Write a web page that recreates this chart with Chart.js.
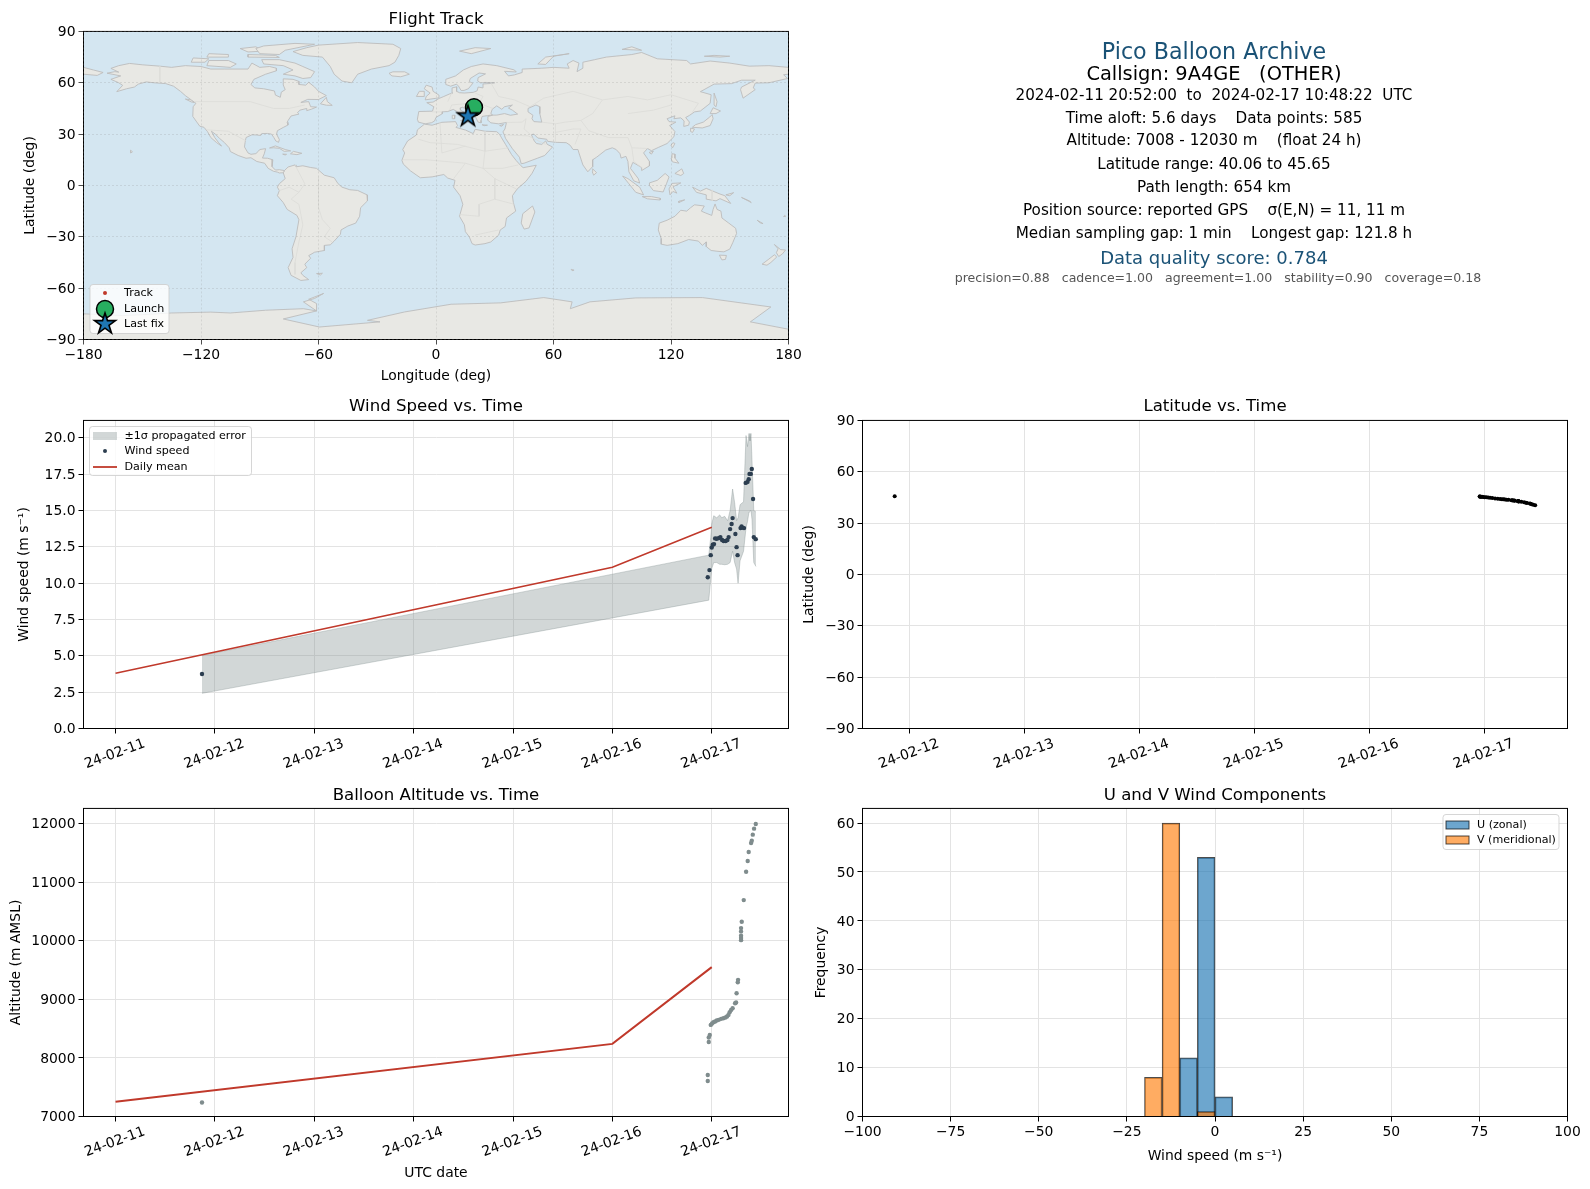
<!DOCTYPE html>
<html>
<head>
<meta charset="utf-8">
<title>Pico Balloon Archive</title>
<script src="https://cdn.jsdelivr.net/npm/chart.js@4/dist/chart.umd.min.js"></script>
<style>
  html, body { margin: 0; background: #fff; }
  #page { position: relative; width: 1590px; height: 1189px; overflow: hidden; font-family: 'DejaVu Sans', sans-serif; }
  canvas { position: absolute; }
  .info { position: absolute; left: 800px; width: 828px; text-align: center; white-space: pre; transform: translateY(-50%); }
</style>
</head>
<body>
<div id="page">
  <canvas id="mapChart"></canvas>
  <canvas id="windChart"></canvas>
  <canvas id="latChart"></canvas>
  <canvas id="altChart"></canvas>
  <canvas id="histChart"></canvas>
</div>
<script>
// days counted from 2024-02-11 00:00 UTC
const dateLabels = ['24-02-11', '24-02-12', '24-02-13', '24-02-14', '24-02-15', '24-02-16', '24-02-17'];

const windDays = [0.87, 5.96, 5.977, 5.99, 6.0, 6.01, 6.023, 6.034, 6.05, 6.07, 6.087, 6.104, 6.12, 6.14, 6.158, 6.17, 6.185, 6.2, 6.21, 6.238, 6.25, 6.26, 6.29, 6.30, 6.31, 6.325, 6.342, 6.36, 6.372, 6.38, 6.393, 6.403, 6.416, 6.423, 6.443];
const windSpeed = [3.75, 10.41, 10.9, 11.93, 12.46, 12.64, 12.69, 13.08, 13.06, 13.1, 13.17, 12.97, 12.9, 12.9, 12.97, 13.17, 13.72, 14.07, 14.48, 13.38, 12.48, 11.93, 13.79, 13.9, 13.82, 13.79, 16.9, 16.97, 17.15, 17.52, 17.52, 17.86, 15.79, 13.17, 13.03];

const bandDays = [0.87, 5.97, 5.99, 6.0, 6.02, 6.05, 6.08, 6.10, 6.13, 6.16, 6.185, 6.21, 6.23, 6.25, 6.265, 6.285, 6.32, 6.345, 6.36, 6.375, 6.385, 6.395, 6.405, 6.423, 6.445];
const bandUpper = [5.03, 11.93, 13.15, 14.07, 14.64, 14.5, 14.7, 14.5, 14.6, 14.3, 15.0, 16.48, 15.55, 14.3, 14.5, 15.4, 15.6, 20.16, 19.4, 20.3, 19.8, 20.3, 18.5, 15.0, 14.9];
const bandLower = [2.42, 8.83, 10.28, 11.0, 11.42, 11.42, 11.3, 11.3, 11.27, 11.3, 11.42, 12.2, 11.42, 10.97, 10.0, 11.54, 12.2, 13.8, 14.25, 14.9, 15.0, 15.0, 14.4, 11.42, 11.15];

const meanDays = [0, 5, 6];
const meanWind = [3.8, 11.1, 13.85];
const meanAlt = [7250, 8240, 9550];

const trackDays = [0.87, 5.96, 5.96, 5.97, 5.97, 5.98, 5.99, 6.003, 6.017, 6.034, 6.05, 6.07, 6.094, 6.117, 6.138, 6.154, 6.168, 6.18, 6.195, 6.21, 6.235, 6.245, 6.25, 6.262, 6.265, 6.295, 6.295, 6.295, 6.295, 6.295, 6.302, 6.322, 6.346, 6.362, 6.372, 6.396, 6.403, 6.413, 6.426, 6.443];
const altitude = [7240, 7607, 7709, 8273, 8348, 8393, 8564, 8587, 8610, 8621, 8638, 8650, 8667, 8678, 8690, 8707, 8735, 8781, 8820, 8849, 8934, 8946, 9105, 9293, 9333, 10011, 10046, 10085, 10160, 10217, 10325, 10695, 11179, 11362, 11516, 11670, 11709, 11812, 11915, 11994];
const latitude = [45.65, 45.6, 45.55, 45.45, 45.4, 45.35, 45.25, 45.15, 45.05, 44.9, 44.8, 44.65, 44.45, 44.3, 44.15, 44.0, 43.9, 43.8, 43.7, 43.6, 43.4, 43.3, 43.25, 43.15, 43.1, 42.85, 42.83, 42.8, 42.78, 42.75, 42.7, 42.45, 42.15, 41.95, 41.8, 41.4, 41.25, 41.0, 40.7, 40.4];
const altTicks = [7000, 8000, 9000, 10000, 11000, 12000];

const histBins = [-17.5, -12.5, -7.5, -2.5, 2.5];
const uCounts = [null, null, 12, 53, 4];
const vCounts = [8, 60, null, 1, null];

const trackLon = [19.4, 19.0, 18.4, 17.8, 17.1, 16.3];
const trackLat = [45.65, 44.8, 43.7, 42.6, 41.4, 40.4];
const launchPoint = [{ x: 19.4, y: 45.65 }];
const lastPoint = [{ x: 16.3, y: 40.4 }];

// coastlines, [lon, lat]
const northAmerica = [[-168,65.6],[-164,66.5],[-162,66.2],[-166,68.4],[-162,70],[-156.5,71.3],[-150,70.5],[-141,69.7],[-135,69],[-128,70],[-120,69.5],[-115,68],[-108,68],[-100,68],[-96,68],[-94,71.5],[-90,69],[-85,69.5],[-81.5,68.5],[-81.5,67],[-87,65],[-93,62],[-94.5,59],[-92.5,57],[-88,56.5],[-82.5,55.2],[-82,52.8],[-79.5,51.5],[-79,54.5],[-77,56],[-78,58.7],[-78,62.3],[-73,62],[-70,60.8],[-70,59],[-66.5,58.6],[-65,60.3],[-62,57.5],[-60,55],[-56,52.5],[-60,50.2],[-65.5,50.3],[-69,48.5],[-65,49],[-64.5,47.5],[-64,46],[-61,45.8],[-63.5,44.6],[-66,43.7],[-66,45],[-69.5,44],[-70.7,42.5],[-70,41.7],[-74,40.6],[-75.5,38],[-76,36.9],[-75.6,35.3],[-78,33.9],[-81,32],[-81.4,30],[-80,26.8],[-80.4,25.2],[-81.8,26],[-82.8,28],[-84,30],[-86,30.4],[-89,30.3],[-89.5,29.2],[-91.5,29.5],[-94,29.6],[-97,28],[-97.5,25],[-97.8,22.5],[-96,19],[-94.5,18.2],[-92,18.6],[-90.7,20],[-90,21],[-87,21.5],[-87.7,18.5],[-88.6,16],[-86,15.9],[-83.3,15],[-83.7,11],[-82,9],[-80,9.2],[-77.4,8.7],[-78,7.4],[-80,7.3],[-81,7.8],[-83,8.3],[-85.7,10],[-87.5,13],[-91.5,14],[-94.5,16.2],[-97,15.9],[-101,17.5],[-105,19.8],[-105.6,22],[-108,25],[-110.5,27.5],[-112.7,30],[-114.7,31.7],[-113,28],[-111,25],[-109.5,23],[-112,25],[-115,28],[-116.7,31.5],[-118.5,34],[-120.6,34.6],[-122.5,37.6],[-124.2,40.4],[-124,46],[-122.6,48],[-125,50],[-128,52.5],[-130.5,55],[-134,58],[-138,59.5],[-144,60],[-148,60.5],[-152,59.2],[-154,57.5],[-158,56.5],[-163,54.8],[-160,58.5],[-162,60],[-166,62],[-161,64]];
const southAmerica = [[-77.4,8.7],[-75.5,10.8],[-72,12],[-71.5,10.9],[-68,11.5],[-64,10.5],[-61,10],[-57,6],[-52,4.5],[-50,1],[-48,-1],[-44,-2.5],[-40,-2.9],[-35.2,-5.5],[-35,-9],[-38.5,-13],[-39,-18],[-41,-22],[-45,-23.7],[-48.5,-26],[-48.8,-28.5],[-52,-32.5],[-54,-34.7],[-57,-35],[-57,-38],[-62,-39],[-65,-41],[-64,-42.5],[-67,-46],[-66,-48],[-69,-51],[-68,-52.5],[-65,-55],[-69,-55.5],[-74,-52.5],[-75.5,-48],[-73,-42],[-73.5,-37],[-71.5,-30],[-70,-20],[-71,-17.5],[-76,-14],[-78,-10],[-81,-6],[-80,-3],[-81,-1],[-80,1],[-77,4],[-78,7.4]];
const africa = [[-5.9,35.8],[-2,35.2],[3,36.9],[10,37.3],[11,35],[10.2,33.9],[15,32.4],[19,30.3],[20,32.8],[25,31.7],[31,31.4],[32.4,30],[33.5,27.8],[35.5,24],[37.3,20.5],[38.6,18],[41,14.5],[43.3,11.6],[44.5,10.4],[51.2,11.8],[49,7],[46,2.5],[41.5,-2],[39,-6],[39.5,-10],[40.7,-15],[36,-19],[35.3,-24],[32.8,-26],[32,-29],[28,-33],[25,-34],[20,-34.8],[18.4,-34],[17,-30],[15,-27],[14.5,-23],[12,-18],[13.7,-11],[12.3,-6],[9,-1],[9.7,3],[6,4.3],[4,6.4],[-2,5],[-8,4.5],[-13,8.5],[-16.7,12.5],[-17.4,14.7],[-16,19],[-17,21],[-14.5,26],[-10,29.5],[-9.5,32.5]];
const eurasia = [[-9,37],[-9.5,38.7],[-8.8,43.2],[-1.8,43.4],[-1.1,46],[-4.7,48.4],[-1.5,48.7],[1.5,50.8],[4,52],[7,53.5],[8.5,54],[8.2,57],[10.6,57.6],[10.5,55],[12,54.2],[14.5,54],[19,54.4],[21,55.3],[21.5,57.5],[24,57],[24,59.3],[28,59.6],[30,60],[25,60.2],[22.8,59.9],[21.3,61],[21.5,63],[25.3,65.2],[22,65.7],[17.5,62.5],[17,60.7],[18.8,59.7],[16.5,56.5],[14.3,55.5],[12.8,55.5],[11.5,58],[10.5,59.2],[7.5,58],[5,59],[5,62],[10,64],[14,67.5],[18,69.5],[24,71],[31,70],[40,67.5],[41,66.3],[35,66.7],[37,64],[40,64.6],[44,66],[44,68],[54,68.5],[60,69],[68,68.5],[67,71],[70,73],[73,71.5],[72,66.5],[75,68.5],[75,72],[81,73.5],[87,75],[100,76.5],[105,77.7],[113,74],[128,73],[130,71],[140,72.7],[150,71.5],[160,69.7],[170,70],[180,69],[180,65],[177.5,64.7],[179.5,62.5],[170,60],[163,59.8],[162,57],[163,56],[156.8,51],[155.5,56],[156,57.5],[163,61.5],[156,61.5],[151,59.5],[142,59.2],[135,54.8],[140.5,53],[140,48],[135,43.5],[132,43],[129.5,41],[127.5,39.7],[129.4,37],[129,35.2],[126.5,34.5],[126.7,37.7],[125,39.5],[121.5,39],[122,40.7],[118,39],[119,37.3],[122.5,37],[119.3,35],[122,31.5],[121.5,28.5],[118,24.5],[113.5,22.2],[110,20.3],[108,21.6],[106,19],[109,14],[109,11.5],[105,8.7],[105,10.5],[100.5,13.5],[99.3,10],[103.3,4],[104,1.4],[101,2.7],[98.5,8],[98,14],[97,17],[94.5,16],[94,18.5],[92,21],[90,22],[86.7,20.7],[82,16.5],[80,15],[80,11],[77.5,8],[75,12],[73,19],[72.5,21],[70,21],[68.5,23.5],[66.5,25],[61,25.2],[57,25.8],[56.5,27],[52,27.7],[50,30],[48.7,29.7],[50.2,26],[51.3,24.5],[54,24],[56,26],[56.8,24],[59.5,22.5],[55.5,17.5],[52,16],[45,13],[43.5,12.7],[42.6,16.5],[39,21.5],[35.5,27.5],[34.9,29.5],[34.2,31.3],[35.2,33],[36,36.8],[32,36],[28,36.6],[26.3,38.3],[26.5,40.3],[29,41.1],[31,41.1],[35,42],[38,41],[41.7,41.7],[39,44],[37,45.2],[39,47],[35,46],[33.6,44.5],[31,46.5],[28.7,44.5],[28,42],[28.9,41.2],[26.2,40.8],[23.5,40.3],[23,38],[23,36.6],[21.5,37],[19.5,41.5],[19,42],[15,44.5],[13.7,45.7],[12.3,45.3],[12.5,44],[16,41.8],[18.4,40.2],[16.8,40.3],[16,38],[15.8,40],[13,41.2],[10.3,43.5],[8.8,44.4],[6,43.2],[3.2,43],[3.2,41.9],[0,39.8],[-0.7,37.7],[-2.2,36.7],[-5.5,36]];
const chukotkaEnd = [[-180,69],[-175,67.5],[-170,66],[-173,64.3],[-180,65]];
const australia = [[114,-22],[113.5,-26],[115,-31],[115,-34.3],[118,-35],[123.5,-34],[129,-31.6],[134,-32.5],[136,-35],[138,-33],[138,-35.7],[140.5,-38],[144,-38.5],[147,-38.8],[150,-37.2],[151.5,-33.5],[153.5,-28],[153,-25],[149.5,-22],[146,-19],[145.5,-15],[143.5,-14],[142.5,-10.8],[141.5,-14],[140.8,-17.5],[137.5,-16],[135.5,-15],[137,-12],[132,-11.3],[130,-13],[128,-15],[125,-14.5],[122,-18],[118,-20.3]];
const antarctica = [[-180,-75],[-160,-76],[-150,-75.5],[-135,-74.5],[-115,-74],[-105,-74.5],[-87,-72.9],[-67.7,-72],[-61,-73.3],[-61,-69],[-65,-66.5],[-57.4,-63.1],[-62,-66],[-67.7,-68],[-61,-73.3],[-78,-78],[-59.5,-82.7],[-42,-81],[-28.6,-79.7],[-35,-78.8],[-16,-73.9],[7.7,-69.4],[33,-68.6],[55,-65.5],[69.5,-68],[68.6,-72],[78.6,-68],[102,-65.7],[136,-65.5],[171,-71],[160.5,-79.7],[180,-84],[180,-90],[-180,-90]];
const islands = [
  [[-80,73.5],[-72,71.5],[-68,69.5],[-62,66.5],[-64,63],[-68,62.5],[-72,64],[-78,65],[-73,67.5],[-78,70],[-88,71],[-89,73.5]],
  [[-117,70],[-105,69],[-102,71],[-106,73],[-116,73]],
  [[-125,72],[-118,72],[-116,74],[-124,74.5]],
  [[-90,77],[-80,76.5],[-77,79],[-62,82.5],[-72,83],[-88,81.5],[-92,80]],
  [[-96,75],[-80,74.8],[-82,76],[-96,76.5]],
  [[-96,78],[-88,78.5],[-92,81],[-100,80]],
  [[-117,75],[-106,75],[-106,76.5],[-116,77]],
  [[-73,78.2],[-66,80.5],[-60,82],[-40,83.5],[-22,82.5],[-18,80],[-19,76],[-21,72],[-24,70],[-33,68],[-40,65],[-43,60],[-48,61],[-52,65],[-54,69.5],[-58,75],[-68,76]],
  [[-24,65.5],[-22,66.4],[-16,66.4],[-13.6,65],[-18,63.5],[-22.5,64]],
  [[-59,47.7],[-56,51.5],[-55.5,49],[-53,46.8],[-56,46.9]],
  [[-85,21.9],[-82,23.1],[-77,21],[-74.2,20.2],[-77.5,19.9],[-80,21.7],[-83,22]],
  [[-74.3,18.5],[-72.8,19.9],[-68.5,18.8],[-71,18]],
  [[-78.3,18.3],[-76.3,18.2],[-77,17.8]],
  [[-156,20.6],[-155,19.7],[-155.8,19]],
  [[-128,50.5],[-125,50],[-123.5,48.5],[-125,48.8]],
  [[-61,-51.5],[-58,-51.3],[-59,-52.3]],
  [[49.3,-12],[50.5,-15.5],[47.5,-24.8],[45,-25.5],[43.5,-22],[44.3,-16.5]],
  [[-5.5,50],[1.5,51.2],[1.5,52.8],[-1.5,55],[-2,57.5],[-5,58.6],[-6,56.5],[-3,54],[-5,52]],
  [[-10,52],[-6,52],[-6,55],[-8.5,55]],
  [[12.5,38],[15.5,38.2],[15,36.7]],
  [[8.3,41],[9.7,41],[9.5,39],[8.5,39]],
  [[23.5,35.5],[26.3,35.2],[24.5,34.9]],
  [[32.5,35],[34.5,35.6],[33.5,34.6]],
  [[12,78.5],[20,80.5],[28,80],[18,77]],
  [[52,71],[56,75],[68,77],[60,75.5],[56,70.7]],
  [[95,79.5],[105,79],[100,81]],
  [[137,75.5],[145,75],[150,75.5],[142,76]],
  [[142,54],[143.5,49],[143,46],[142,47],[142,50]],
  [[130.9,34],[136,33.6],[140,35],[141.5,39],[141,41.4],[139.8,40],[136.5,37],[132.5,35.5]],
  [[140,42],[141.5,45.4],[145.3,43.5],[143,42]],
  [[130,33.5],[132,33],[131,31],[130,31.5]],
  [[121,25],[122,24.5],[120.8,22],[120,23.5]],
  [[108.8,19.3],[111,20],[110,18.3]],
  [[80,9.7],[82,7.5],[80.5,6],[79.8,8]],
  [[120.5,18.5],[122,18.3],[122,16],[124,13],[120.7,13.8],[120,16]],
  [[122,7],[125.5,9.7],[126.5,7],[125,5.8]],
  [[109,1.5],[113,3],[117,7],[119,5],[117.7,1],[116,-3.8],[111,-3],[109,0]],
  [[95.3,5.5],[98,4],[104,-1],[106,-5.5],[102,-4],[98.5,1]],
  [[105.3,-6.5],[110,-6.5],[114.5,-7.5],[114.5,-8.5],[108,-7.8]],
  [[119.5,-5.5],[119,-2],[120.5,1.2],[125,1.5],[121,-0.8],[123,-4.5],[121,-3.5]],
  [[131,-1],[135,-3.3],[138,-1.7],[145,-5],[147.5,-6],[150.5,-10.5],[145,-7.7],[143,-9],[138,-8],[138,-5.5],[133,-4]],
  [[148,-5.5],[152,-4.2],[150,-6]],
  [[124,-10],[127,-8.4],[124,-9.2]],
  [[156,-7],[160,-9],[161,-10]],
  [[178,-17.5],[178.6,-18],[177.5,-18.2]],
  [[164,-20.3],[167,-22.3],[165.5,-21.8]],
  [[144.7,-40.7],[148.3,-40.9],[147.8,-43.2],[146,-43.5]],
  [[172.8,-34.5],[176,-37.5],[178.5,-37.7],[176.9,-40],[175,-41.5],[173.8,-39.3],[174.7,-37]],
  [[172.8,-40.5],[174,-41.8],[171,-45],[169,-46.6],[166.5,-46],[170,-43]],
  [[69,-49],[70.5,-49.5],[69.5,-49.8]]
];
const caspianSea = [[47,45],[51,47],[53,46],[53,42],[54,37],[50,37.3],[49,39],[49.5,41],[47,43]];
const borders = [
  [[-141,69.7],[-141,60]], [[-123,49],[-95,49],[-83,45],[-75,45],[-67,47]], [[-117,32.5],[-106,31.7],[-97,26]],
  [[-72,12],[-67,1],[-70,-4],[-74,-8],[-70,-11],[-69,-17],[-68,-23],[-70,-33],[-72,-45],[-72,-52]],
  [[-60,5],[-60,-13],[-58,-20],[-54,-25],[-57,-30],[-53,-33]], [[-80,-3],[-75,-1],[-70,-4]],
  [[-9,27],[-3,25],[11,24],[25,20],[37,22]], [[25,31.7],[25,20],[24,10],[30,4],[30,-8],[22,-11],[22,-18],[12,-17]],
  [[-17,15],[-5,15],[15,13],[24,10],[34,10],[42,12]], [[9,4],[15,13]], [[30,4],[41,-2]], [[30,-8],[40,-11]],
  [[20,-29],[32,-26]], [[2,37],[3,19],[15,23]],
  [[20,54],[24,52],[22,48],[29,45]], [[28,60],[32,52],[40,50],[48,46]], [[6,49],[8,54]], [[-2,43],[3,43]], [[7,44],[8,47],[17,48],[22,48]],
  [[48,46],[55,51],[70,55],[85,50],[98,52],[108,50],[120,53],[134,48],[131,43]],
  [[85,50],[80,42],[74,38],[78,32],[88,28],[98,28],[100,22],[108,21.6]], [[98,42],[111,44],[120,47]],
  [[36,36.8],[44,37],[46,39],[45,33],[48,30]], [[35,29.5],[47,29],[56,24]], [[61,25.2],[61,31],[61,36],[54,37]], [[74,38],[66,37],[61,36]], [[61,31],[70,33],[74,33],[71,24]],
  [[100,22],[101,14],[105,10.5]], [[141,-2.6],[141,-9]]
];

function toPoints(days, values) {
  return days.map((d, i) => ({ x: d, y: values[i] }));
}
function lonLat(list) {
  return list.map(p => ({ x: p[0], y: p[1] }));
}
function minusSign(v) {
  return String(v).replace('-', '\u2212');
}

const fontFamily = "'DejaVu Sans', sans-serif";
Chart.defaults.font.family = fontFamily;
Chart.defaults.color = '#000';
Chart.defaults.animation = false;

const gridColor = '#e3e3e3';
const redLine = '#c0392b';
const dotDark = '#2c3e50';
const dotGrey = '#7f8c8d';
const bandColor = 'rgba(127,140,141,0.35)';
const ocean = '#d4e6f1';
const landColor = '#e8e8e4';

// ocean, land fill, black frame
const mapFill = {
  id: 'mapFill',
  beforeDraw(chart) {
    const a = chart.chartArea;
    chart.ctx.fillStyle = ocean;
    chart.ctx.fillRect(a.left, a.top, a.right - a.left, a.bottom - a.top);
  },
  beforeDatasetDraw(chart, args) {
    const ds = chart.data.datasets[args.index];
    if (!ds.areaFill) return;
    const ctx = chart.ctx, a = chart.chartArea, pts = args.meta.data;
    ctx.save();
    ctx.beginPath();
    ctx.rect(a.left, a.top, a.right - a.left, a.bottom - a.top);
    ctx.clip();
    ctx.beginPath();
    pts.forEach((p, i) => i ? ctx.lineTo(p.x, p.y) : ctx.moveTo(p.x, p.y));
    ctx.closePath();
    ctx.fillStyle = ds.areaFill;
    ctx.fill();
    ctx.restore();
  }
};
const frame = {
  id: 'frame',
  afterDatasetsDraw(chart) {
    const a = chart.chartArea, ctx = chart.ctx;
    ctx.save();
    ctx.strokeStyle = '#000';
    ctx.lineWidth = 1;
    ctx.strokeRect(a.left, a.top, a.right - a.left, a.bottom - a.top);
    ctx.restore();
  }
};
// matplotlib style legend box inside the axes
const boxLegend = {
  id: 'boxLegend',
  afterDraw(chart, args, opts) {
    if (!opts.items) return;
    const ctx = chart.ctx, top = chart.canvas.offsetTop, left = chart.canvas.offsetLeft;
    ctx.save();
    ctx.translate(-left, -top);
    ctx.beginPath();
    ctx.roundRect(opts.x, opts.y, opts.w, opts.h, 3);
    ctx.fillStyle = 'rgba(255,255,255,0.8)';
    ctx.fill();
    ctx.strokeStyle = 'rgba(204,204,204,0.8)';
    ctx.lineWidth = 1;
    ctx.stroke();
    ctx.font = '11.1px ' + fontFamily;
    ctx.textBaseline = 'middle';
    opts.items.forEach(item => {
      const sx = opts.x + opts.swatchX, cx = sx + 12, w = opts.swatchW;
      if (item.kind === 'rect') {
        ctx.fillStyle = item.fill;
        ctx.fillRect(sx, item.y - 4, w, 8);
        if (item.stroke) { ctx.strokeStyle = item.stroke; ctx.strokeRect(sx, item.y - 4, w, 8); }
      } else if (item.kind === 'line') {
        ctx.strokeStyle = item.color;
        ctx.lineWidth = 1.8;
        ctx.beginPath();
        ctx.moveTo(sx, item.y);
        ctx.lineTo(sx + w, item.y);
        ctx.stroke();
      } else {
        ctx.fillStyle = item.color || '#000';
        ctx.strokeStyle = '#000';
        ctx.lineWidth = item.edge || 0;
        Chart.helpers.drawPoint(ctx, {
          pointStyle: item.style || 'circle', radius: item.r, rotation: 0,
          borderWidth: item.edge || 0
        }, cx, item.y);
      }
      ctx.fillStyle = '#000';
      ctx.textAlign = 'left';
      ctx.fillText(item.label, opts.x + opts.textX, item.y);
    });
    ctx.restore();
  }
};
Chart.register(frame, boxLegend);

function starImage(r) {
  const c = document.createElement('canvas');
  c.width = c.height = 2 * r + 6;
  const ctx = c.getContext('2d'), m = r + 3;
  ctx.beginPath();
  for (let i = 0; i < 10; i++) {
    const rad = i % 2 ? r * 0.382 : r;
    const t = -Math.PI / 2 + i * Math.PI / 5;
    ctx.lineTo(m + rad * Math.cos(t), m + rad * Math.sin(t));
  }
  ctx.closePath();
  ctx.fillStyle = '#1f77b4';
  ctx.fill();
  ctx.strokeStyle = '#000';
  ctx.lineWidth = 1.6;
  ctx.lineJoin = 'miter';
  ctx.stroke();
  return c;
}
const starPoint = starImage(11);

// box = canvas rect, area = axes rect in page pixels
function buildChart(id, box, area, titleText, titleY, yTitleX, xTitleY, xTitle, yTitle, xOpts, yOpts, datasets, plugins, legend, type) {
  const canvas = document.getElementById(id);
  canvas.width = box.w;
  canvas.height = box.h;
  canvas.style.left = box.x + 'px';
  canvas.style.top = box.y + 'px';
  const padLeft = yTitleX - 8.3 - box.x;
  const padBottom = box.y + box.h - (xTitleY + 8.3);
  const padTop = titleY - 10 - box.y;
  return new Chart(canvas, {
    type: type || 'scatter',
    data: { datasets },
    plugins: plugins || [],
    options: {
      responsive: false,
      layout: { padding: { left: padLeft, right: box.x + box.w - area.r, top: padTop, bottom: padBottom } },
      plugins: {
        legend: { display: false },
        tooltip: { enabled: false },
        title: {
          display: true, text: titleText, fullSize: false, color: '#000',
          font: { size: 16.6, weight: 'normal' },
          padding: { top: 0, bottom: area.t - titleY - 10 }
        },
        boxLegend: legend || {}
      },
      scales: {
        x: Object.assign({
          type: 'linear',
          afterFit: s => { s.height = xTitleY + 8.3 - area.b; },
          border: { display: false },
          title: { display: !!xTitle, text: xTitle, font: { size: 13.9 }, padding: 0 }
        }, xOpts),
        y: Object.assign({
          afterFit: s => { s.width = area.l - box.x - padLeft; },
          border: { display: false },
          title: { display: true, text: yTitle, font: { size: 13.9 }, padding: 0 }
        }, yOpts)
      }
    }
  });
}

function axisGrid(extra) {
  return Object.assign({ color: gridColor, tickColor: '#000', tickLength: 5, lineWidth: 1 }, extra || {});
}
function dateAxis(min, max) {
  return {
    min, max,
    grid: axisGrid(),
    ticks: {
      stepSize: 1, includeBounds: false, autoSkip: false, minRotation: 20, maxRotation: 20,
      labelOffset: 29, padding: 2, font: { size: 13.9 }, color: '#000',
      callback: v => dateLabels[v]
    }
  };
}
function valueAxis(min, max, stepSize, callback) {
  return {
    type: 'linear', min, max,
    grid: axisGrid(),
    ticks: { stepSize, includeBounds: false, padding: 3, labelOffset: 1, font: { size: 13.9 }, color: '#000', callback: callback || minusSign }
  };
}

// Flight track map
const mapGrid = axisGrid({ color: 'rgba(140,140,140,0.3)', lineWidth: 0.7, z: 1 });
const mapBorder = { display: false, dash: [2, 2] };
const landSets = [northAmerica, southAmerica, africa, eurasia, chukotkaEnd, australia, antarctica].concat(islands).map(poly => ({
  data: lonLat(poly.concat([poly[0]])), showLine: true, pointRadius: 0, borderColor: '#bcbcbc', borderWidth: 0.9, areaFill: landColor, order: 20
}));
const borderSets = borders.map(line => ({
  data: lonLat(line), showLine: true, pointRadius: 0, borderColor: '#dcdcd8', borderWidth: 0.8, order: 10
}));
const lakeSet = { data: lonLat(caspianSea.concat([caspianSea[0]])), showLine: true, pointRadius: 0, borderColor: '#bcbcbc', borderWidth: 0.9, areaFill: ocean, order: 9 };
buildChart('mapChart', { x: 0, y: 0, w: 830, h: 395 }, { l: 83.5, r: 788.5, t: 31.5, b: 339.5 },
  'Flight Track', 19.5, 30.5, 376, 'Longitude (deg)', 'Latitude (deg)',
  { min: -180, max: 180, border: mapBorder, grid: mapGrid, ticks: { stepSize: 60, padding: 3, font: { size: 13.9 }, color: '#000', maxRotation: 0, callback: minusSign } },
  { type: 'linear', min: -90, max: 90, border: mapBorder, grid: mapGrid, ticks: { stepSize: 30, padding: 3, labelOffset: 1, font: { size: 13.9 }, color: '#000', callback: minusSign } },
  landSets.concat(borderSets, [lakeSet,
    { data: toPoints(trackLon, trackLat), pointRadius: 1.5, backgroundColor: redLine, borderWidth: 0, order: 3 },
    { data: launchPoint, pointRadius: 8.5, backgroundColor: '#27ae60', borderColor: '#000', borderWidth: 1.5, order: 2 },
    { data: lastPoint, pointStyle: starPoint, pointRadius: 11, order: 1 }
  ]),
  [mapFill],
  { x: 90, y: 284.5, w: 79, h: 49, swatchX: 3, swatchW: 24, textX: 34, items: [
    { kind: 'point', label: 'Track', y: 293, r: 2, color: redLine },
    { kind: 'point', label: 'Launch', y: 309, r: 8.5, color: '#27ae60', edge: 1.5 },
    { kind: 'point', label: 'Last fix', y: 324, r: 11, style: starPoint }
  ] });

// Wind speed vs time
buildChart('windChart', { x: 0, y: 395, w: 802, h: 385 }, { l: 83.5, r: 788.5, t: 420.5, b: 728.5 },
  'Wind Speed vs. Time', 406.5, 24.3, 775, '', 'Wind speed (m s\u207B\u00B9)',
  dateAxis(-0.3225, 6.7725),
  valueAxis(0, 21.2, 2.5, v => v.toFixed(1)),
  [
    { data: toPoints(bandDays, bandUpper), showLine: true, pointRadius: 0, borderColor: bandColor, borderWidth: 1, backgroundColor: bandColor, fill: '+1', order: 3 },
    { data: toPoints(bandDays, bandLower), showLine: true, pointRadius: 0, borderColor: bandColor, borderWidth: 1, order: 3 },
    { data: toPoints(windDays, windSpeed), pointRadius: 2.2, backgroundColor: dotDark, borderWidth: 0, order: 2 },
    { data: toPoints(meanDays, meanWind), showLine: true, pointRadius: 0, borderColor: redLine, borderWidth: 1.6, order: 1 }
  ], [],
  { x: 89.5, y: 426.5, w: 162, h: 49, swatchX: 3.5, swatchW: 24, textX: 35, items: [
    { kind: 'rect', label: '\u00B11\u03C3 propagated error', y: 436, fill: bandColor },
    { kind: 'point', label: 'Wind speed', y: 451, r: 2, color: dotDark },
    { kind: 'line', label: 'Daily mean', y: 467, color: redLine }
  ] });

// Latitude vs time
buildChart('latChart', { x: 800, y: 395, w: 790, h: 385 }, { l: 862.5, r: 1567.5, t: 420.5, b: 728.5 },
  'Latitude vs. Time', 406.5, 809, 775, '', 'Latitude (deg)',
  dateAxis(0.59, 6.724),
  valueAxis(-90, 90, 30),
  [{ data: toPoints(trackDays, latitude), pointRadius: 2, backgroundColor: '#000', borderWidth: 0 }]);

// Altitude vs time
buildChart('altChart', { x: 0, y: 780, w: 802, h: 409 }, { l: 83.5, r: 788.5, t: 808.5, b: 1116.5 },
  'Balloon Altitude vs. Time', 795.5, 16.2, 1173, 'UTC date', 'Altitude (m AMSL)',
  dateAxis(-0.3225, 6.7725),
  Object.assign(valueAxis(7000, 12260, 1000), {
    afterBuildTicks: s => { s.ticks = altTicks.map(v => ({ value: v })); }
  }),
  [
    { data: toPoints(trackDays, altitude), pointRadius: 2.2, backgroundColor: dotGrey, borderWidth: 0, order: 2 },
    { data: toPoints(meanDays, meanAlt), showLine: true, pointRadius: 0, borderColor: redLine, borderWidth: 2, order: 1 }
  ]);

// U and V histogram
buildChart('histChart', { x: 800, y: 780, w: 790, h: 409 }, { l: 862.5, r: 1567.5, t: 808.5, b: 1116.5 },
  'U and V Wind Components', 795.5, 821, 1156, 'Wind speed (m s\u207B\u00B9)', 'Frequency',
  { min: -100, max: 100, offset: false, grid: axisGrid({ offset: false }), ticks: { stepSize: 25, padding: 3, font: { size: 13.9 }, color: '#000', maxRotation: 0, callback: minusSign } },
  valueAxis(0, 63, 10),
  [
    { label: 'U (zonal)', data: toPoints(histBins, uCounts), backgroundColor: 'rgba(31,119,180,0.65)', borderColor: 'rgba(0,0,0,0.7)', borderWidth: 1, barPercentage: 1, categoryPercentage: 1, grouped: false, order: 2 },
    { label: 'V (meridional)', data: toPoints(histBins, vCounts), backgroundColor: 'rgba(255,127,14,0.65)', borderColor: 'rgba(0,0,0,0.7)', borderWidth: 1, barPercentage: 1, categoryPercentage: 1, grouped: false, order: 1 }
  ], [],
  { x: 1443, y: 814.5, w: 116, h: 35, swatchX: 3, swatchW: 23, textX: 34, items: [
    { kind: 'rect', label: 'U (zonal)', y: 825, fill: 'rgba(31,119,180,0.65)', stroke: 'rgba(0,0,0,0.7)' },
    { kind: 'rect', label: 'V (meridional)', y: 840, fill: 'rgba(255,127,14,0.65)', stroke: 'rgba(0,0,0,0.7)' }
  ] }, 'bar');

// summary text block
const infoLines = [
  ['Pico Balloon Archive', 50.5, 22.2, '#1a5276', 0],
  ['Callsign: 9A4GE   (OTHER)', 73, 19.4, '#000', 0],
  ['2024-02-11 20:52:00  to  2024-02-17 10:48:22  UTC', 95, 15.2, '#000', 0],
  ['Time aloft: 5.6 days    Data points: 585', 118, 15.2, '#000', 0],
  ['Altitude: 7008 - 12030 m    (float 24 h)', 140, 15.2, '#000', 0],
  ['Latitude range: 40.06 to 45.65', 163.5, 15.2, '#000', 0],
  ['Path length: 654 km', 186.5, 15.2, '#000', 0],
  ['Position source: reported GPS    \u03C3(E,N) = 11, 11 m', 210, 15.2, '#000', 0],
  ['Median sampling gap: 1 min    Longest gap: 121.8 h', 233, 15.2, '#000', 0],
  ['Data quality score: 0.784', 257, 18, '#1a5276', 0],
  ['precision=0.88   cadence=1.00   agreement=1.00   stability=0.90   coverage=0.18', 277, 12.55, '#555', 4]
];
const page = document.getElementById('page');
infoLines.forEach(line => {
  const div = document.createElement('div');
  div.className = 'info';
  div.textContent = line[0];
  div.style.top = line[1] + 'px';
  div.style.fontSize = line[2] + 'px';
  div.style.color = line[3];
  div.style.marginLeft = line[4] + 'px';
  page.appendChild(div);
});
</script>
</body>
</html>
